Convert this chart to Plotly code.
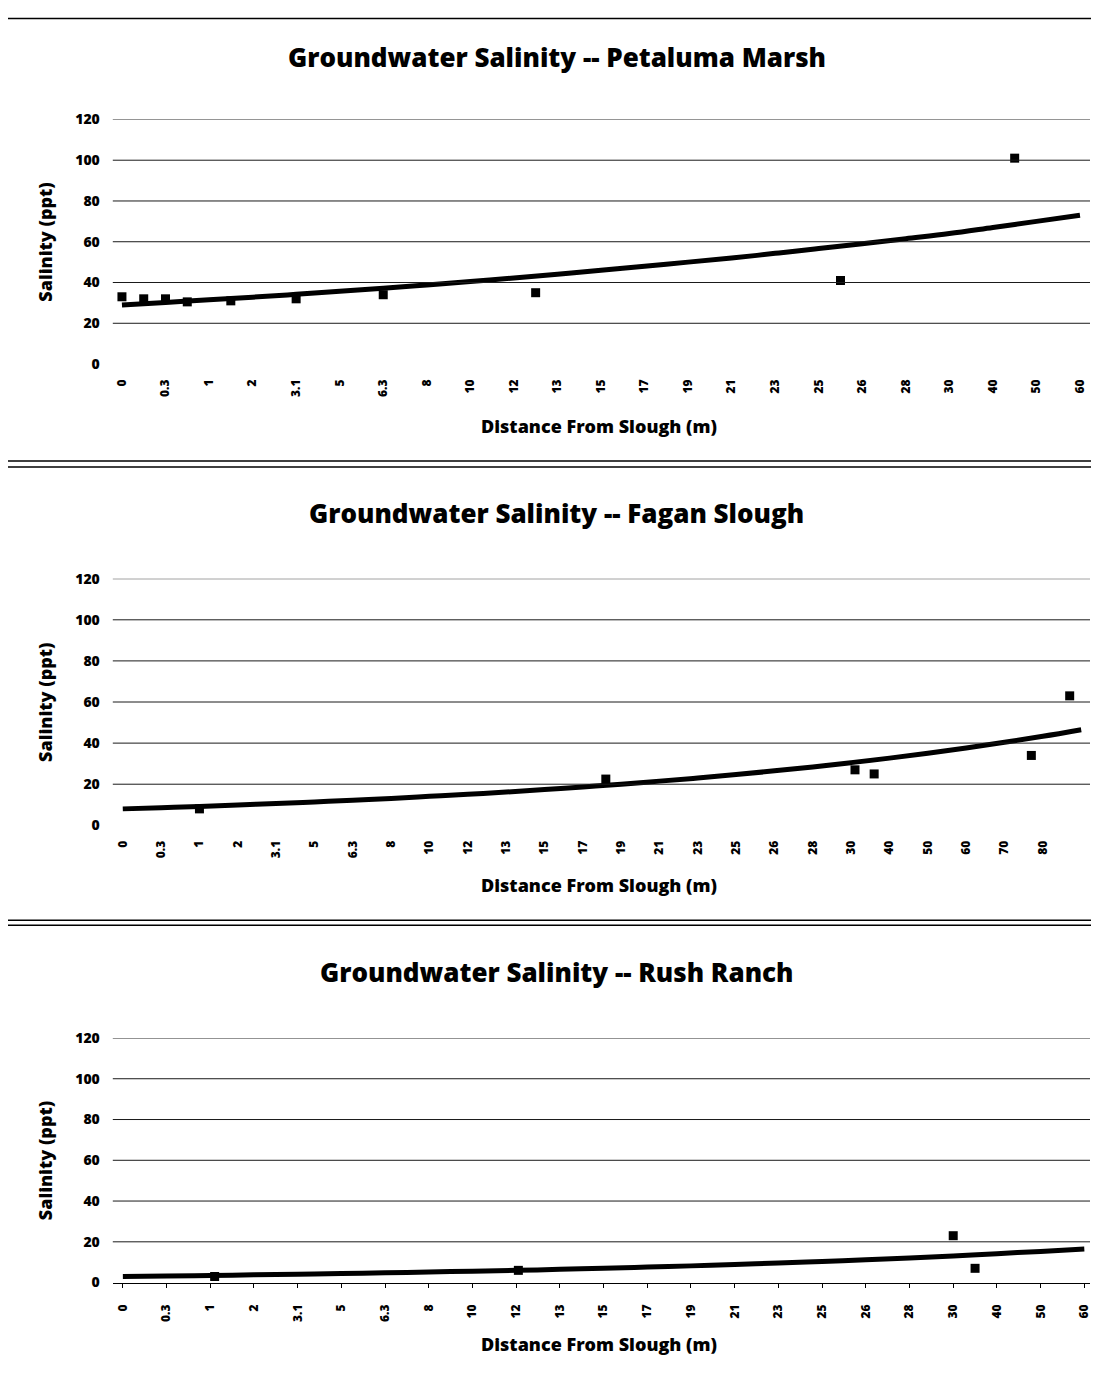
import plotly.graph_objects as go

# ---------------- data ----------------
TITLES = ["Groundwater Salinity -- Petaluma Marsh",
          "Groundwater Salinity -- Fagan Slough",
          "Groundwater Salinity -- Rush Ranch"]

labels_pm = ["0", "0.3", "1", "2", "3.1", "5", "6.3", "8", "10", "12", "13", "15", "17",
             "19", "21", "23", "25", "26", "28", "30", "40", "50", "60"]
labels_fs = ["0", "0.3", "1", "2", "3.1", "5", "6.3", "8", "10", "12", "13", "15", "17",
             "19", "21", "23", "25", "26", "28", "30", "40", "50", "60", "70", "80"]
labels_rr = ["0", "0.3", "1", "2", "3.1", "5", "6.3", "8", "10", "12", "13", "15", "17",
             "19", "21", "23", "25", "26", "28", "30", "40", "50", "60"]

# measured points (x = position on the category axis, y = salinity ppt)
pm_x = [0, 0.5, 1, 1.5, 2.5, 4, 6, 9.5, 16.5, 20.5]
pm_y = [33, 32, 32, 30.5, 31, 32, 34, 35, 41, 101]
fs_x = [2, 12.6, 19.1, 19.6, 23.7, 24.7]
fs_y = [8, 22.5, 27, 25, 34, 63]
rr_x = [2.1, 9.05, 19.0, 19.5]
rr_y = [3, 6, 23, 7]

# trend lines at each category position
pm_trend = [29, 30.2, 31.5, 32.8, 34.2, 35.7, 37.2, 38.8, 40.5, 42.2, 44, 46, 48, 50,
            52, 54.3, 56.7, 59, 61.5, 64, 67, 70, 73]
fs_trend = [8, 8.6, 9.2, 9.9, 10.6, 11.4, 12.2, 13.1, 14.1, 15.1, 16.2, 17.4, 18.7, 20,
            21.5, 23, 24.7, 26.5, 28.4, 30.5, 32.7, 35.1, 37.6, 40.4, 43.3, 46.5]
rr_trend = [3.0, 3.2, 3.5, 3.8, 4.1, 4.4, 4.8, 5.2, 5.6, 6.0, 6.5, 7.0, 7.6, 8.2, 8.9,
            9.6, 10.4, 11.2, 12.1, 13.1, 14.2, 15.3, 16.5]

Y_TICKS = [0, 20, 40, 60, 80, 100, 120]
GRID = [20, 40, 60, 80, 100, 120]

# ---------------- figure ----------------
PAD = 8                      # page body margin
W, H = 1101 - 2 * PAD, 1380
FONT = "Open Sans"
VS, VOFF = 0.9878, 8.5       # vertical capture correction


def fx(px):
    return (px - PAD) / W


def fy(py):
    page = (py - VOFF) / VS
    return 1 - (page - PAD) / H


fig = go.Figure()

panels = [
    dict(labels=labels_pm, px=pm_x, py=pm_y, trend=pm_trend, xr=[-0.21, 22.23],
         top=118, bot=363, title_y=55, xt_y=425, axis_line=False),
    dict(labels=labels_fs, px=fs_x, py=fs_y, trend=fs_trend, xr=[-0.26, 25.23],
         top=578, bot=825, title_y=512, xt_y=885, axis_line=False),
    dict(labels=labels_rr, px=rr_x, py=rr_y, trend=rr_trend, xr=[-0.23, 22.13],
         top=1038, bot=1283, title_y=972, xt_y=1345, axis_line=True),
]

x0, x1 = fx(113), fx(1092)
for i, p in enumerate(panels):
    n = "" if i == 0 else str(i + 1)
    xa, ya = "x" + n, "y" + n
    fig.add_trace(go.Scatter(x=list(range(len(p["trend"]))), y=p["trend"], mode="lines",
                             line=dict(color="black", width=5, shape="spline"),
                             xaxis=xa, yaxis=ya, showlegend=False, cliponaxis=False))
    fig.add_trace(go.Scatter(x=p["px"], y=p["py"], mode="markers",
                             marker=dict(symbol="square", size=9, color="black"),
                             xaxis=xa, yaxis=ya, showlegend=False, cliponaxis=False))
    dom_y = [fy(p["bot"]), fy(p["top"])]
    fig.layout["xaxis" + n] = dict(
        domain=[x0, x1], range=p["xr"], anchor=ya,
        tickmode="array", tickvals=list(range(len(p["labels"]))), ticktext=p["labels"],
        tickangle=-90, showgrid=False, zeroline=False,
        showline=p["axis_line"], linecolor="black", linewidth=1,
        ticks="outside" if p["axis_line"] else "", ticklen=4, tickcolor="black",
        ticklabelstandoff=12, ticklabeloverflow="allow",
        tickfont=dict(family=FONT, size=12, color="black", weight=800))
    fig.layout["yaxis" + n] = dict(
        domain=dom_y, range=[0, 120], anchor=xa,
        tickmode="array", tickvals=Y_TICKS, showgrid=False, zeroline=False,
        showline=False, ticklabelstandoff=12,
        tickfont=dict(family=FONT, size=14, color="black", weight=800))
    for g in GRID:
        fig.add_shape(type="line", xref=xa + " domain", yref=ya, x0=0, x1=1, y0=g, y1=g,
                      line=dict(color="#1a1a1a", width=1))
    fig.add_annotation(text=TITLES[i], xref="paper", yref="paper", x=fx(558),
                       y=fy(p["title_y"]), showarrow=False, xanchor="center",
                       yanchor="middle",
                       font=dict(family=FONT, size=26, color="black", weight=800))
    fig.add_annotation(text="Distance From Slough (m)", xref="paper", yref="paper",
                       x=fx(600), y=fy(p["xt_y"]), showarrow=False,
                       xanchor="center", yanchor="middle",
                       font=dict(family=FONT, size=18, color="black", weight=800))
    fig.add_annotation(text="Salinity (ppt)", xref="paper", yref="paper",
                       x=fx(45), y=fy((p["top"] + p["bot"]) / 2), showarrow=False,
                       textangle=-90, xanchor="center", yanchor="middle",
                       font=dict(family=FONT, size=18, color="black", weight=800))

# separator rules between the panels
for yy in [17, 460, 466, 920, 925]:
    fig.add_shape(type="line", xref="paper", yref="paper", x0=0, x1=1,
                  y0=fy(yy), y1=fy(yy), line=dict(color="black", width=1.5))

fig.update_layout(width=W, height=H, margin=dict(l=0, r=0, t=0, b=0),
                  paper_bgcolor="white", plot_bgcolor="white", showlegend=False)

fig.write_html("out.html")
